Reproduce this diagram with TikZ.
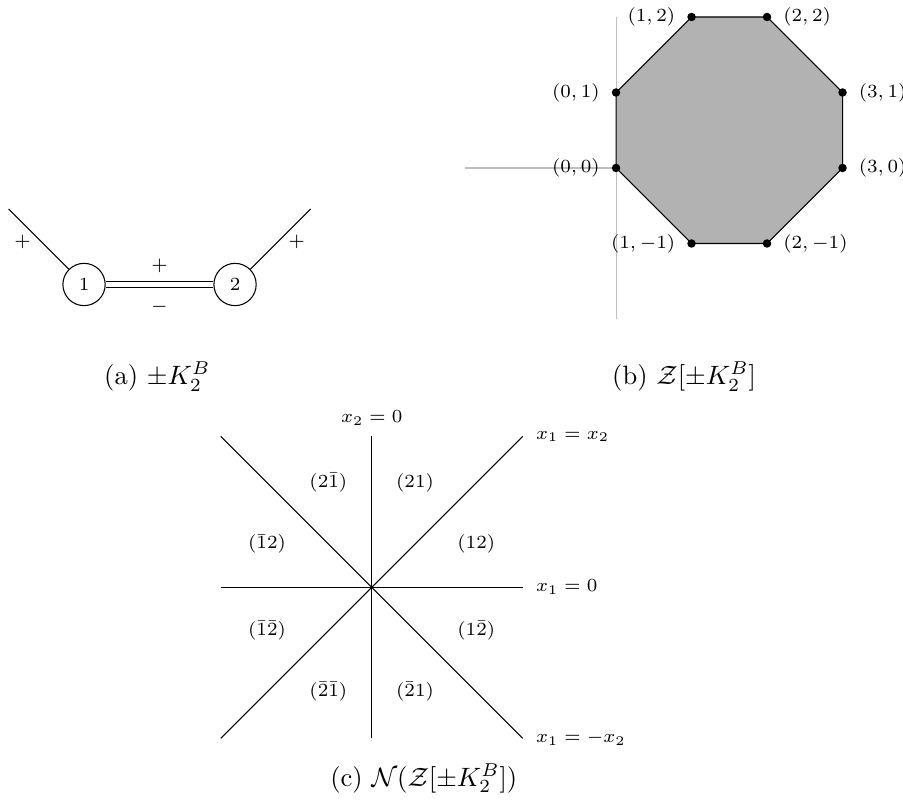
\documentclass[tikz,border=0pt]{standalone}
\usepackage{amsmath}
\usepackage{amssymb}
\usepackage{xcolor}
\usepackage{tikz}
\usetikzlibrary{arrows.meta}

\begin{document}
\begin{tikzpicture}[
    vtx/.style={circle,draw,inner sep=1pt,minimum size=5.6mm,font=\scriptsize},
    sgn/.style={font=\scriptsize},
    dot/.style={circle,fill,inner sep=0pt,minimum size=3.2pt},
    lbl/.style={font=\scriptsize,label distance=0.8pt},
    cone/.style={font=\scriptsize},
    capt/.style={anchor=base}]
  \useasboundingbox (0,0) rectangle (11.96,-10.6);
  % (a) the signed graph
  \begin{scope}[shift={(1.113,-3.768)}]
    \node[vtx] (v1) at (0,0) {1};
    \node[vtx] (v2) at (2,0) {2};
    \coordinate (t1) at (-1,1);
    \coordinate (t2) at (3,1);
    \draw (t1) -- node[sgn,left=-0.5pt,yshift=-1pt] {$+$} (v1);
    \draw (v2) -- node[sgn,right=-0.5pt,yshift=-1pt] {$+$} (t2);
    \draw[double,double distance=2pt] (v1) -- node[sgn,above=1pt] {$+$} node[sgn,below=2.4pt] {$-$} (v2);
    \node[capt] (capa) at (0.97,-1.325) {(a) $\pm K_2^B$};
  \end{scope}
  % (b) the zonotope
  \begin{scope}[shift={(8.159,-2.225)}]
    \coordinate (xl) at (-2,0);
    \coordinate (xr) at (2,0);
    \coordinate (yb) at (0,-2);
    \coordinate (yt) at (0,2);
    \draw[gray!50] (xl) -- (xr);
    \draw[gray!50] (yb) -- (yt);
    \coordinate (q00) at (0,0);
    \coordinate (q01) at (0,1);
    \coordinate (q12) at (1,2);
    \coordinate (q22) at (2,2);
    \coordinate (q31) at (3,1);
    \coordinate (q30) at (3,0);
    \coordinate (q2m) at (2,-1);
    \coordinate (q1m) at (1,-1);
    \filldraw[fill=black!30] (q00) -- (q01) -- (q12) -- (q22) -- (q31) -- (q30) -- (q2m) -- (q1m) -- cycle;
    \node[dot,label={[lbl]left:$(0,0)$}] (p00) at (q00) {};
    \node[dot,label={[lbl]left:$(0,1)$}] (p01) at (q01) {};
    \node[dot,label={[lbl]left:$(1,2)$}] (p12) at (q12) {};
    \node[dot,label={[lbl]right:$(2,2)$}] (p22) at (q22) {};
    \node[dot,label={[lbl]right:$(3,1)$}] (p31) at (q31) {};
    \node[dot,label={[lbl]right:$(3,0)$}] (p30) at (q30) {};
    \node[dot,label={[lbl]right:$(2,-1)$}] (p2m) at (q2m) {};
    \node[dot,label={[lbl]left:$(1,-1)$}] (p1m) at (q1m) {};
    \node[capt] (capb) at (0.901,-2.868) {(b) $\mathcal{Z}[\pm K_2^B]$};
  \end{scope}
  % (c) the normal fan
  \begin{scope}[shift={(4.923,-7.779)}]
    \coordinate (n) at (0,2);
    \coordinate (s) at (0,-2);
    \coordinate (e) at (2,0);
    \coordinate (w) at (-2,0);
    \coordinate (ne) at (2,2);
    \coordinate (sw) at (-2,-2);
    \coordinate (nw) at (-2,2);
    \coordinate (se) at (2,-2);
    \draw (w) -- (e);
    \draw (s) -- (n);
    \draw (sw) -- (ne);
    \draw (nw) -- (se);
    \node[cone,above=0.5pt] (hn) at (n) {$x_2 = 0$};
    \node[cone,right=1.5pt] (hne) at (ne) {$x_1 = x_2$};
    \node[cone,right=1.5pt] (he) at (e) {$x_1 = 0$};
    \node[cone,right=1.5pt] (hse) at (se) {$x_1 = -x_2$};
    \node[cone] (c12) at (22.5:1.5) {$(12)$};
    \node[cone] (c21) at (67.5:1.5) {$(21)$};
    \node[cone] (c2b1) at (112.5:1.5) {$(2\bar{1})$};
    \node[cone] (cb12) at (157.5:1.5) {$(\bar{1}2)$};
    \node[cone] (cb1b2) at (202.5:1.5) {$(\bar{1}\bar{2})$};
    \node[cone] (cb2b1) at (247.5:1.5) {$(\bar{2}\bar{1})$};
    \node[cone] (cb21) at (292.5:1.5) {$(\bar{2}1)$};
    \node[cone] (c1b2) at (337.5:1.5) {$(1\bar{2})$};
    \node[capt] (capc) at (0.69,-2.632) {(c) $\mathcal{N}(\mathcal{Z}[\pm K_2^B])$};
  \end{scope}
\end{tikzpicture}
\end{document}
